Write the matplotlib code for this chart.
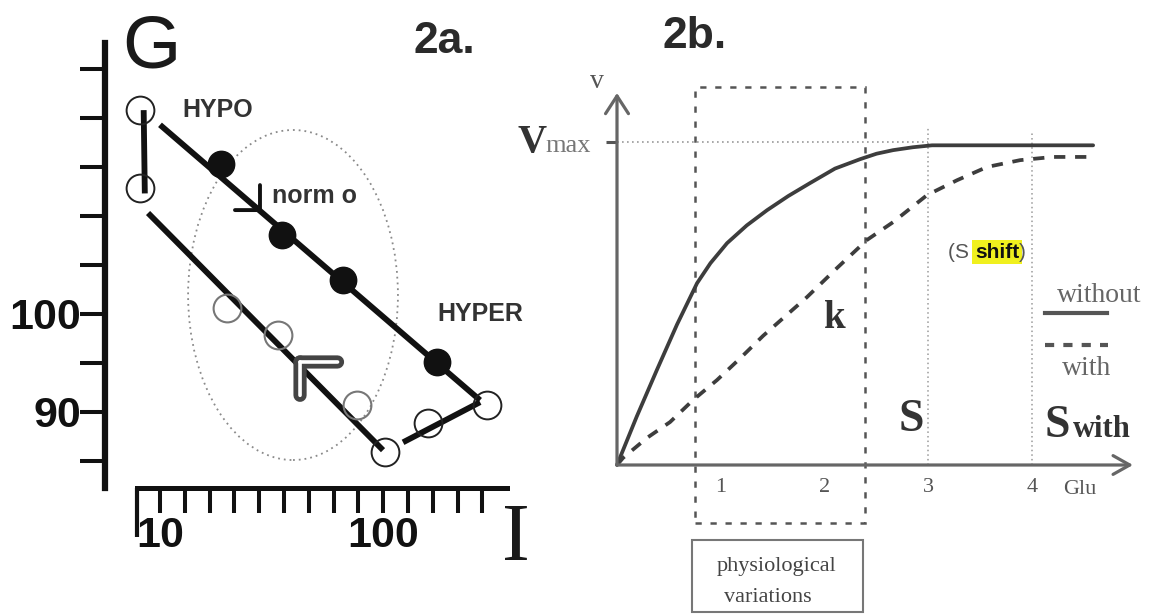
import matplotlib
matplotlib.use("Agg")
import matplotlib.pyplot as plt
from matplotlib.patches import Ellipse, Rectangle
from matplotlib.ticker import NullLocator
from matplotlib import font_manager as fm

# ---------------- data: panel 2a (G vs I, log I) ----------------
g_ticks = [85, 90, 95, 100, 105, 110, 115, 120, 125]
g_ticklabels = ['', '90', '', '100', '', '', '', '', '']
i_ticks = [10.0, 12.9, 16.7, 21.5, 27.8, 35.9, 46.4, 59.9, 77.4, 100.0,
           129.2, 166.8, 215.4, 278.3]
i_ticklabels = ['10', '', '', '', '', '', '', '', '', '100', '', '', '', '']

filled_I = [18.8, 35.2, 66.1, 174.2]
filled_G = [115.3, 108.1, 103.5, 95.1]
open_black_I = [8.14, 8.14, 101.9, 291.7, 158.7]
open_black_G = [120.8, 112.9, 85.9, 90.7, 88.9]
open_gray_I = [20.0, 33.8, 76.3]
open_gray_G = [100.6, 97.9, 90.7]

vert_I, vert_G = [8.45, 8.55], [120.8, 112.3]
upper_I, upper_G = [10.0, 271.6], [119.3, 91.2]
lower_I, lower_G = [8.84, 99.8], [110.3, 86.1]
return_I, return_G = [122.7, 271.6], [86.9, 91.0]

arrow_down_tip = (28.05, 110.6)
arrow_up_tip = (42.4, 95.1)

# ---------------- data: panel 2b (v vs Glu) ----------------
glu_ticks = [1, 2, 3, 4]
glu_ticklabels = ['1', '2', '3', '4']
glu_without = [0, 0.19, 0.385, 0.578, 0.771, 0.9, 1.06, 1.25, 1.445, 1.65,
               1.859, 2.1, 2.341, 2.5, 2.659, 2.85, 3.035, 3.62, 4.586]
v_without = [0, 0.15, 0.295, 0.435, 0.563, 0.625, 0.687, 0.742, 0.789, 0.833,
             0.873, 0.918, 0.947, 0.964, 0.975, 0.984, 0.99, 0.99, 0.99]
glu_with = [0, 0.058, 0.289, 0.511, 0.732, 0.963, 1.185, 1.407, 1.830, 2.119,
            2.408, 2.659, 2.987, 3.276, 3.565, 3.882, 4.200, 4.528]
v_with = [0, 0.022, 0.084, 0.133, 0.201, 0.263, 0.33, 0.40, 0.520, 0.610,
          0.697, 0.752, 0.836, 0.882, 0.923, 0.944, 0.954, 0.954]
s_lines = [3, 4]
phys_x = [0.75, 2.39]
phys_v = [-0.18, 1.17]

# ---------------- fonts ----------------
avail = {f.name for f in fm.fontManager.ttflist}
HAS_NARROW = 'Liberation Sans Narrow' in avail
NARROW = 'Liberation Sans Narrow' if HAS_NARROW else 'Liberation Sans'
SANS = 'Liberation Sans'
SERIF = 'Liberation Serif'

W, H = 1150, 615
fig = plt.figure(figsize=(11.5, 6.15), dpi=100)
fig.patch.set_facecolor('white')


def box(l, t, r, b):
    return [l / W, (H - b) / H, (r - l) / W, (b - t) / H]


def barb(ax, tip, dx, dy, color, lw):
    ax.annotate('', xy=tip, xytext=(dx, dy), textcoords='offset points',
                arrowprops=dict(arrowstyle='-', color=color, lw=lw,
                                shrinkA=0, shrinkB=0),
                annotation_clip=False)


# ================= Panel 2a =================
axa = fig.add_axes(box(105, 43, 507, 488))
axa.set_xscale('log')
axa.set_xlim(5.67, 358.6)
axa.set_ylim(82.24, 127.65)
axa.patch.set_alpha(0)
for s in ('top', 'right'):
    axa.spines[s].set_visible(False)
axa.spines['left'].set_linewidth(4.5)
axa.spines['bottom'].set_linewidth(3.6)
axa.spines['left'].set_color('#111')
axa.spines['bottom'].set_color('#111')
axa.spines['bottom'].set_bounds(7.89, 358.6)

axa.xaxis.set_minor_locator(NullLocator())
axa.set_xticks(i_ticks)
xs = 40 if HAS_NARROW else 31
ys = 38 if HAS_NARROW else 31
axa.set_xticklabels(i_ticklabels, fontfamily=NARROW, fontweight='bold',
                    fontsize=xs, color='#111')
axa.set_yticks(g_ticks)
axa.set_yticklabels(g_ticklabels, fontfamily=NARROW, fontweight='bold',
                    fontsize=ys, color='#111')
axa.tick_params(axis='x', direction='out', length=18, width=2.9, pad=2,
                color='#111')
axa.tick_params(axis='y', direction='out', length=18, width=2.9, pad=-1,
                color='#111')
# long left-end tick of the I axis
axa.plot([7.89, 7.89], [82.24, 77.24], color='#111', lw=3, clip_on=False,
         solid_capstyle='butt')

# dotted ellipse (normo region)
axa.add_patch(Ellipse((0.4677, 0.4337), 0.522, 0.7416, transform=axa.transAxes,
                      fill=False, ec='#8a8a8a', lw=1.3, ls=(0, (1, 2.2))))

# lines
lk = dict(color='#111', lw=4.2, solid_capstyle='butt')
axa.plot(vert_I, vert_G, **lk)
axa.plot(upper_I, upper_G, **lk)
axa.plot(lower_I, lower_G, **lk)
axa.plot(return_I, return_G, **lk)

# markers
axa.plot(filled_I, filled_G, 'o', ms=19, mfc='#111', mec='#111', ls='none')
axa.plot(open_black_I, open_black_G, 'o', ms=20, mfc='none', mec='#222',
         mew=1.4, ls='none')
axa.plot(open_gray_I, open_gray_G, 'o', ms=20, mfc='none', mec='#777',
         mew=1.5, ls='none')

# direction arrows
barb(axa, arrow_down_tip, 0, 18, '#111', 2.8)
barb(axa, arrow_down_tip, -18, 0, '#111', 2.8)
for c, w in (('#444', 9.5), ('white', 2.6)):
    barb(axa, arrow_up_tip, 27, 0, c, w)
    barb(axa, arrow_up_tip, 0, -24, c, w)

# texts
axa.text(6.76, 125.2, 'G', fontfamily=SANS, fontsize=54, color='#1a1a1a',
         ha='left', va='baseline', clip_on=False)
axa.text(12.55, 120.1, 'HYPO', fontfamily=SANS, fontweight='bold',
         fontsize=18, color='#333', ha='left', va='baseline')
axa.text(31.8, 111.3, 'norm o', fontfamily=SANS, fontweight='bold',
         fontsize=18, color='#333', ha='left', va='baseline')
axa.text(174.2, 99.3, 'HYPER', fontfamily=SANS, fontweight='bold',
         fontsize=18, color='#333', ha='left', va='baseline', clip_on=False)
axa.text(136, 126.6, '2a.', fontfamily=SANS, fontweight='bold', fontsize=32,
         color='#2a2a2a', ha='left', va='baseline', clip_on=False)
axa.text(340, 74.9, 'I', fontfamily=SERIF, fontsize=60, color='#1a1a1a',
         ha='left', va='baseline', clip_on=False)

# ================= Panel 2b =================
axb = fig.add_axes(box(617, 93, 1133, 465))
axb.set_xlim(0, 4.97)
axb.set_ylim(0, 1.152)
axb.patch.set_alpha(0)
for s in axb.spines.values():
    s.set_visible(False)

# axes with open arrowheads
axb.annotate('', xy=(4.97, 0), xytext=(0, 0),
             arrowprops=dict(arrowstyle='->,head_length=0.8,head_width=0.45',
                             lw=2.3, color='#666', shrinkA=0, shrinkB=0,
                             mutation_scale=15), annotation_clip=False)
axb.annotate('', xy=(0, 1.152), xytext=(0, 0),
             arrowprops=dict(arrowstyle='->,head_length=0.85,head_width=0.55',
                             lw=2.3, color='#666', shrinkA=0, shrinkB=0,
                             mutation_scale=15), annotation_clip=False)

axb.set_xticks(glu_ticks)
axb.set_xticklabels(glu_ticklabels, fontfamily=SERIF, fontsize=16,
                    color='#555')
axb.tick_params(axis='x', length=0, pad=9)
axb.set_yticks([1])
axb.set_yticklabels([''])
axb.tick_params(axis='y', direction='out', length=8, width=2.2, color='#555')

# Vmax dotted guide and S dotted guides
axb.plot([0, 3.0], [1, 1], color='#9a9a9a', lw=1.2, ls=(0, (1, 2)),
         clip_on=False)
axb.plot([s_lines[0]] * 2, [0, 1.043], color='#9a9a9a', lw=1.1,
         ls=(0, (1, 2)), clip_on=False)
axb.plot([s_lines[1]] * 2, [0, 1.031], color='#9a9a9a', lw=1.1,
         ls=(0, (1, 2)), clip_on=False)

# physiological variations dashed box
axb.add_patch(Rectangle((phys_x[0], phys_v[0]), phys_x[1] - phys_x[0],
                        phys_v[1] - phys_v[0], fill=False, ec='#555', lw=1.8,
                        ls=(0, (2.5, 3.5)), clip_on=False))

# curves
axb.plot(glu_without, v_without, color='#3d3d3d', lw=2.7, clip_on=False,
         solid_capstyle='round', solid_joinstyle='round')
axb.plot(glu_with, v_with, color='#3d3d3d', lw=2.7, ls=(0, (3, 2.6)),
         clip_on=False)

# legend (manual, as in the sketch)
axb.plot([4.123, 4.72], [0.4706, 0.4706], color='#555', lw=3, clip_on=False)
axb.plot([4.123, 4.73], [0.3715, 0.3715], color='#555', lw=3,
         ls=(0, (2.2, 2.2)), clip_on=False)
axb.text(4.239, 0.505, 'without', fontfamily=SERIF, fontsize=20, color='#666',
         ha='left', va='baseline', clip_on=False)
axb.text(4.287, 0.279, 'with', fontfamily=SERIF, fontsize=20, color='#666',
         ha='left', va='baseline', clip_on=False)

# labels
axb.text(-0.193, 1.189, 'v', fontfamily=SERIF, fontsize=20, color='#555',
         ha='center', va='center', clip_on=False)
axb.text(-0.954, 0.969, 'V', fontfamily=SERIF, fontweight='bold', fontsize=29,
         color='#333', ha='left', va='baseline', clip_on=False)
axb.text(-0.694, 0.969, 'max', fontfamily=SERIF, fontsize=19, color='#777',
         ha='left', va='baseline', clip_on=False)
axb.text(4.46, -0.077, 'Glu', fontfamily=SERIF, fontsize=16, color='#555',
         ha='center', va='center', clip_on=False)
axb.text(2.10, 0.455, 'k', fontfamily=SERIF, fontweight='bold', fontsize=28,
         color='#333', ha='center', va='center')
axb.text(2.832, 0.139, 'S', fontfamily=SERIF, fontweight='bold', fontsize=33,
         color='#333', ha='center', va='center')
axb.text(4.123, 0.0867, 'S', fontfamily=SERIF, fontweight='bold', fontsize=33,
         color='#333', ha='left', va='baseline', clip_on=False)
axb.text(4.393, 0.0867, 'with', fontfamily=SERIF, fontweight='bold',
         fontsize=22, color='#333', ha='left', va='baseline', clip_on=False)

t1 = axb.text(3.189, 0.659, '(S ', fontfamily=SANS, fontsize=15, color='#555',
              ha='left', va='center')
t2 = axb.annotate('shift', xy=(1, 0), xycoords=t1, ha='left', va='bottom',
                  fontfamily=SANS, fontweight='bold', fontsize=15,
                  color='#111',
                  bbox=dict(boxstyle='square,pad=0.12', fc='#f0f01e',
                            ec='none'))
axb.annotate(')', xy=(1, 0), xycoords=t2, ha='left', va='bottom',
             fontfamily=SANS, fontsize=15, color='#555')

axb.add_patch(Rectangle((0.723, -0.455), 2.37 - 0.723, 0.223, fill=False,
                        ec='#777', lw=1.5, clip_on=False))
axb.text(1.533, -0.313, 'physiological', fontfamily=SERIF, fontsize=16,
         color='#444', ha='center', va='center', clip_on=False)
axb.text(1.455, -0.409, 'variations', fontfamily=SERIF, fontsize=16,
         color='#444', ha='center', va='center', clip_on=False)

axb.text(0.434, 1.291, '2b.', fontfamily=SANS, fontweight='bold', fontsize=32,
         color='#2a2a2a', ha='left', va='baseline', clip_on=False)

fig.savefig('out.png', dpi=100, facecolor='white')
